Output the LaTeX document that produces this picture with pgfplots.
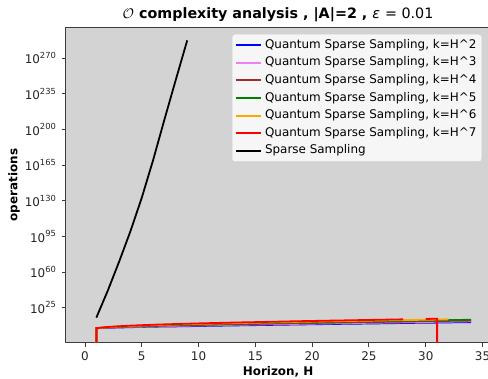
\documentclass[border=0pt]{standalone}
\usepackage{fontspec}
\setmainfont{DejaVu Sans}
\usepackage{pgfplots}
\pgfplotsset{compat=1.18}
\definecolor{bg}{RGB}{211,211,211}
\definecolor{legbg}{RGB}{246,246,246}
\definecolor{legedge}{RGB}{204,204,204}
\definecolor{spine}{RGB}{60,60,60}
\definecolor{mblue}{RGB}{0,0,255}
\definecolor{mviolet}{RGB}{238,130,238}
\definecolor{mbrown}{RGB}{165,42,42}
\definecolor{mgreen}{RGB}{0,128,0}
\definecolor{morange}{RGB}{255,165,0}
\definecolor{mred}{RGB}{255,0,0}
\begin{document}
\begin{tikzpicture}
\begin{axis}[
  at={(0,0)}, anchor=south west,
  scale only axis, width=305.9pt, height=226.7pt,
  xmin=-1.7, xmax=35.7,
  ymode=log, ymin=6.3e-10, ymax=1e300,
  axis background/.style={fill=bg},
  axis line style={draw=spine, line width=0.7pt},
  tick align=outside, major tick length=3pt,
  every tick/.style={draw=spine, line width=0.7pt},
  tick pos=left,
  xtick={0,5,...,35},
  ytick={1e25,1e60,1e95,1e130,1e165,1e200,1e235,1e270},
  yticklabels={10\textsuperscript{25},10\textsuperscript{60},10\textsuperscript{95},10\textsuperscript{130},10\textsuperscript{165},10\textsuperscript{200},10\textsuperscript{235},10\textsuperscript{270}},
  minor y tick num=0,
  ticklabel style={font=\fontsize{8.6}{10}\selectfont, text=black!85},
  /pgf/number format/assume math mode=true,
  title={\bfseries $\mathcal{O}$ complexity analysis , |A|=2 , {\mdseries\itshape ε} {\mdseries = 0.01}},
  every axis title/.style={at={(axis description cs:0.5,1)}, anchor=base, yshift=6.3pt, font=\fontsize{10.3}{12}\selectfont},
  xlabel={\bfseries Horizon, H},
  ylabel={\bfseries operations},
  every axis x label/.style={at={(axis description cs:0.5,-0.0935)}, anchor=center, font=\fontsize{8.6}{10}\selectfont},
  every axis y label/.style={at={(axis description cs:-0.1213,0.5)}, rotate=90, anchor=center, font=\fontsize{8.6}{10}\selectfont},
  unbounded coords=jump,
  legend cell align=left,
  legend image code/.code={\draw[#1] (0pt,0pt) -- (18.5pt,0pt);},
  legend style={at={(1,1)}, anchor=north east, xshift=-6pt, yshift=-4.5pt,
    fill=legbg, draw=legedge, rounded corners=2pt,
    font=\fontsize{8.6}{10}\selectfont, inner xsep=2pt, inner ysep=1.5pt,
    nodes={text height=6.5pt, text depth=2pt, inner ysep=2.1pt}},
  every axis plot/.append style={line width=1.3pt},
]
\addplot[mblue] coordinates {(1,1e-30)(1,6.3e4)(2,1.58e5)(3,3.16e5)(4,6.3e5)(6,2e6)(8,4e6)(10,1e7)(13,3.16e7)(16,1e8)(19,3.16e8)(22,1e9)(25,2.5e9)(28,7.9e9)(30,1.58e10)(31,2e10)(32,3.16e10)(34,6.3e10)};
\addlegendentry{Quantum Sparse Sampling, k=H\textasciicircum 2}
\addplot[mviolet] coordinates {(1,1e-30)(1,6.3e4)(2,2.5e5)(3,6.3e5)(4,1.26e6)(6,4e6)(8,1.26e7)(10,3.16e7)(13,1.26e8)(16,4e8)(19,1.26e9)(22,4e9)(25,1.26e10)(28,4e10)(30,7.9e10)(31,1.26e11)(32,1.58e11)(34,4e11)};
\addlegendentry{Quantum Sparse Sampling, k=H\textasciicircum 3}
\addplot[mbrown] coordinates {(1,1e-30)(1,6.3e4)(2,3.16e5)(3,1e6)(4,2.5e6)(6,1e7)(8,4e7)(10,1e8)(13,4e8)(16,1.58e9)(19,6.3e9)(22,2e10)(25,6.3e10)(28,2e11)(30,5e11)(31,6.3e11)(32,1e12)(34,2e12)};
\addlegendentry{Quantum Sparse Sampling, k=H\textasciicircum 4}
\addplot[mgreen] coordinates {(1,1e-30)(1,6.3e4)(2,5e5)(3,2e6)(4,5e6)(6,2.5e7)(8,1e8)(10,3.16e8)(13,1.58e9)(16,6.3e9)(19,2.5e10)(22,1e11)(25,3.16e11)(28,1.26e12)(30,2.5e12)(31,4e12)(32,5e12)(34,1.26e13)};
\addlegendentry{Quantum Sparse Sampling, k=H\textasciicircum 5}
\addplot[morange] coordinates {(1,1e-30)(1,6.3e4)(2,6.3e5)(3,3.16e6)(4,1e7)(6,6.3e7)(8,3.16e8)(10,1e9)(13,6.3e9)(16,2.5e10)(19,1.26e11)(22,5e11)(25,1.58e12)(28,6.3e12)(30,1.26e13)(31,2e13)(32,3.16e13)};
\addlegendentry{Quantum Sparse Sampling, k=H\textasciicircum 6}
\addplot[mred] coordinates {(1,1e-30)(1,6.3e4)(2,1e6)(3,5e6)(4,2e7)(6,1.58e8)(8,7.9e8)(10,3.16e9)(13,2e10)(16,1e11)(19,5e11)(22,2e12)(25,7.9e12)(28,3.16e13)(29,nan)(30,7.9e13)(31,1.26e14)(31,1e-30)};
\addlegendentry{Quantum Sparse Sampling, k=H\textasciicircum 7}
\addplot[black] coordinates {(1,1.585e15)(2,3.162e41)(3,1e70)(4,1e100)(5,1e133)(6,1e170)(7,1e210)(8,1e249)(9,3.162e287)};
\addlegendentry{Sparse Sampling}
\end{axis}
\pgfresetboundingbox
\useasboundingbox (-47.3pt,-25.6pt) rectangle (304.1pt,246.6pt);
\end{tikzpicture}
\end{document}
